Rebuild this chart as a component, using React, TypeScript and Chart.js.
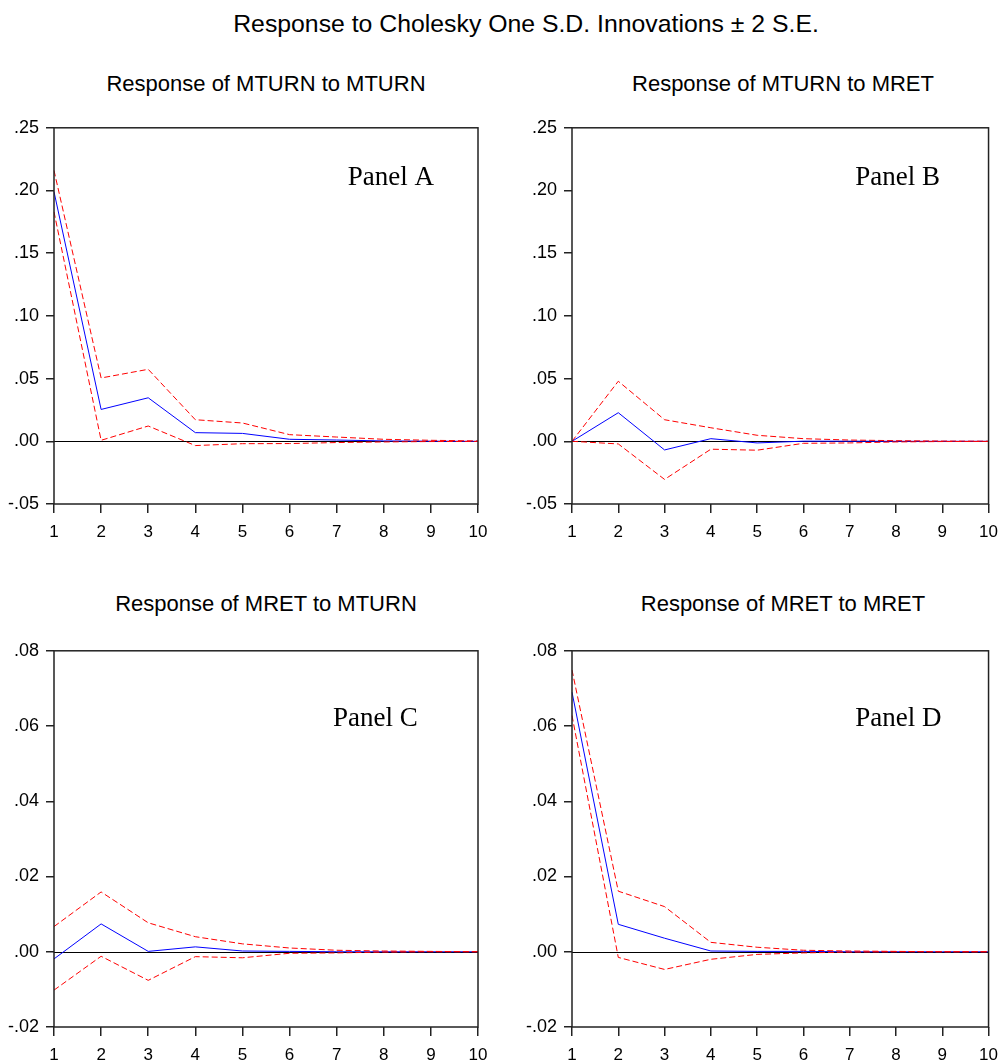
import React, { useEffect, useRef } from "react";
import { Chart, registerables } from "chart.js";

Chart.register(...registerables);

const PERIODS = ["1", "2", "3", "4", "5", "6", "7", "8", "9", "10"];

const TOP_Y_TICKS = [-0.05, 0.0, 0.05, 0.1, 0.15, 0.2, 0.25];
const BOTTOM_Y_TICKS = [-0.02, 0.0, 0.02, 0.04, 0.06, 0.08];

const A_RESP = [0.199, 0.0254, 0.0347, 0.0069, 0.0063, 0.0016, 0.001, 0.0003, 0.0001, 0.0];
const A_UPPER = [0.216, 0.0505, 0.0574, 0.0172, 0.0146, 0.0053, 0.0034, 0.0016, 0.0008, 0.0003];
const A_LOWER = [0.183, 0.0008, 0.0122, -0.0034, -0.0019, -0.0018, -0.001, -0.0005, -0.0002, -0.0001];

const B_RESP = [0.0, 0.0228, -0.0069, 0.0021, -0.0013, 0.0001, 0.0001, 0.0, 0.0, 0.0];
const B_UPPER = [0.0, 0.0479, 0.0172, 0.0108, 0.0048, 0.0021, 0.001, 0.0005, 0.0002, 0.0001];
const B_LOWER = [0.0, -0.0021, -0.0304, -0.0063, -0.0071, -0.0016, -0.0013, -0.0005, -0.0002, -0.0001];

const C_RESP = [-0.0019, 0.0074, 0.0001, 0.0013, 0.0002, 0.0001, 0.0, 0.0, 0.0, 0.0];
const C_UPPER = [0.0067, 0.0159, 0.0077, 0.004, 0.0021, 0.001, 0.0004, 0.0002, 0.0001, 0.0];
const C_LOWER = [-0.0102, -0.0012, -0.0076, -0.0013, -0.0016, -0.0004, -0.0003, -0.0001, 0.0, 0.0];

const D_RESP = [0.069, 0.0073, 0.0036, 0.0002, 0.0001, 0.0001, 0.0, 0.0, 0.0, 0.0];
const D_UPPER = [0.0749, 0.0161, 0.012, 0.0025, 0.0012, 0.0004, 0.0002, 0.0001, 0.0, 0.0];
const D_LOWER = [0.0628, -0.0015, -0.0047, -0.002, -0.0007, -0.0003, -0.0001, 0.0, 0.0, 0.0];

const MAIN_TITLE = "Response to Cholesky One S.D. Innovations \u00B1 2 S.E.";

const SANS = '"Liberation Sans", Arial, sans-serif';
const SERIF = '"Liberation Serif", "Times New Roman", serif';

type PanelDef = {
  title: string;
  label: string;
  resp: number[];
  upper: number[];
  lower: number[];
  yTicks: number[];
  left: number;
  top: number;
  width: number;
  padRight: number;
  labelFx: number;
  labelDy: number;
  titleCenter: number;
  titleTop: number;
};

const PANELS: PanelDef[] = [
  {
    title: "Response of MTURN to MTURN",
    label: "Panel A",
    resp: A_RESP,
    upper: A_UPPER,
    lower: A_LOWER,
    yTicks: TOP_Y_TICKS,
    left: 0,
    top: 110,
    width: 500,
    padRight: 22,
    labelFx: 0.693,
    labelDy: 57,
    titleCenter: 266,
    titleTop: 73,
  },
  {
    title: "Response of MTURN to MRET",
    label: "Panel B",
    resp: B_RESP,
    upper: B_UPPER,
    lower: B_LOWER,
    yTicks: TOP_Y_TICKS,
    left: 518,
    top: 110,
    width: 489,
    padRight: 12,
    labelFx: 0.68,
    labelDy: 57,
    titleCenter: 783,
    titleTop: 73,
  },
  {
    title: "Response of MRET to MTURN",
    label: "Panel C",
    resp: C_RESP,
    upper: C_UPPER,
    lower: C_LOWER,
    yTicks: BOTTOM_Y_TICKS,
    left: 0,
    top: 633,
    width: 500,
    padRight: 22,
    labelFx: 0.658,
    labelDy: 75,
    titleCenter: 266,
    titleTop: 593,
  },
  {
    title: "Response of MRET to MRET",
    label: "Panel D",
    resp: D_RESP,
    upper: D_UPPER,
    lower: D_LOWER,
    yTicks: BOTTOM_Y_TICKS,
    left: 518,
    top: 633,
    width: 489,
    padRight: 12,
    labelFx: 0.68,
    labelDy: 75,
    titleCenter: 783,
    titleTop: 593,
  },
];

const CANVAS_HEIGHT = 450;
const PLOT_HEIGHT = 379;
const PAD_TOP = 15;
const X_AXIS_HEIGHT = 45;

function fmtTick(v: number): string {
  const r = Math.round(v * 100) / 100;
  let s = Math.abs(r).toFixed(2).replace(/^0/, "");
  if (r < 0) s = "-" + s;
  return s;
}

function Panel({ def }: { def: PanelDef }) {
  const ref = useRef<HTMLCanvasElement | null>(null);

  useEffect(() => {
    const canvas = ref.current;
    if (!canvas) return;

    const framePlugin = {
      id: "frame" + def.label.replace(" ", ""),
      beforeDatasetsDraw(chart: any) {
        const { ctx, chartArea, scales } = chart;
        const y0 = scales.y.getPixelForValue(0);
        ctx.save();
        ctx.strokeStyle = "#000";
        ctx.lineWidth = 1;
        ctx.beginPath();
        ctx.moveTo(chartArea.left, Math.round(y0) + 0.5);
        ctx.lineTo(chartArea.right, Math.round(y0) + 0.5);
        ctx.stroke();
        ctx.restore();
      },
      afterDraw(chart: any) {
        const { ctx, chartArea } = chart;
        ctx.save();
        ctx.strokeStyle = "#222";
        ctx.lineWidth = 1.5;
        ctx.strokeRect(
          chartArea.left,
          chartArea.top,
          chartArea.right - chartArea.left,
          chartArea.bottom - chartArea.top
        );
        ctx.fillStyle = "#000";
        ctx.font = "27px " + SERIF;
        ctx.textAlign = "left";
        ctx.textBaseline = "alphabetic";
        ctx.fillText(
          def.label,
          chartArea.left + def.labelFx * (chartArea.right - chartArea.left),
          chartArea.top + def.labelDy
        );
        ctx.restore();
      },
    };

    const chart = new Chart(canvas, {
      type: "line",
      data: {
        labels: PERIODS,
        datasets: [
          {
            label: "Response",
            data: def.resp,
            borderColor: "#0000FF",
            borderWidth: 1,
            pointRadius: 0,
            tension: 0,
            fill: false,
            order: 2,
          },
          {
            label: "+2 S.E.",
            data: def.upper,
            borderColor: "#FF0000",
            borderWidth: 1,
            borderDash: [6, 3],
            pointRadius: 0,
            tension: 0,
            fill: false,
            order: 1,
          },
          {
            label: "-2 S.E.",
            data: def.lower,
            borderColor: "#FF0000",
            borderWidth: 1,
            borderDash: [6, 3],
            pointRadius: 0,
            tension: 0,
            fill: false,
            order: 1,
          },
        ],
      },
      options: {
        animation: false,
        responsive: false,
        devicePixelRatio: 1,
        layout: {
          padding: {
            top: PAD_TOP,
            left: 0,
            right: def.padRight,
            bottom: CANVAS_HEIGHT - PAD_TOP - PLOT_HEIGHT - X_AXIS_HEIGHT,
          },
        },
        plugins: {
          legend: { display: false },
          tooltip: { enabled: false },
          title: { display: false },
        },
        scales: {
          x: {
            type: "category",
            offset: false,
            clip: false,
            grid: {
              display: true,
              drawOnChartArea: false,
              drawTicks: true,
              tickLength: 9,
              color: "#222",
              lineWidth: 1.5,
              offset: false,
            },
            border: { display: false },
            ticks: {
              color: "#000",
              font: { family: SANS, size: 17 },
              padding: 9,
              maxRotation: 0,
              autoSkip: false,
            },
            afterFit: (scale: any) => {
              scale.height = X_AXIS_HEIGHT;
            },
          },
          y: {
            type: "linear",
            clip: false,
            min: def.yTicks[0],
            max: def.yTicks[def.yTicks.length - 1],
            afterBuildTicks: (scale: any) => {
              scale.ticks = def.yTicks.map((v) => ({ value: v }));
            },
            grid: {
              display: true,
              drawOnChartArea: false,
              drawTicks: true,
              tickLength: 8,
              color: "#222",
              lineWidth: 1.5,
            },
            border: { display: false },
            ticks: {
              color: "#000",
              font: { family: SANS, size: 18 },
              padding: 7,
              callback: (v: any) => fmtTick(Number(v)),
            },
            afterFit: (scale: any) => {
              scale.width = 54;
            },
          },
        },
      },
      plugins: [framePlugin],
    } as any);

    return () => {
      chart.destroy();
    };
  }, [def]);

  return (
    <>
      <div
        style={{
          position: "absolute",
          left: def.titleCenter - 250,
          width: 500,
          top: def.titleTop,
          textAlign: "center",
          fontFamily: SANS,
          fontSize: 22,
          lineHeight: "22px",
          color: "#000",
          whiteSpace: "nowrap",
        }}
      >
        {def.title}
      </div>
      <canvas
        ref={ref}
        width={def.width}
        height={CANVAS_HEIGHT}
        style={{
          position: "absolute",
          left: def.left,
          top: def.top,
          width: def.width,
          height: CANVAS_HEIGHT,
        }}
      />
    </>
  );
}

export default function App() {
  return (
    <div
      style={{
        position: "absolute",
        left: 0,
        top: 0,
        width: 1007,
        height: 1063,
        background: "#fff",
        overflow: "hidden",
      }}
    >
      <div
        style={{
          position: "absolute",
          left: 226,
          width: 600,
          top: 11,
          textAlign: "center",
          fontFamily: SANS,
          fontSize: 24.8,
          lineHeight: "25px",
          color: "#000",
          whiteSpace: "nowrap",
        }}
      >
        {MAIN_TITLE}
      </div>
      {PANELS.map((p) => (
        <Panel key={p.label} def={p} />
      ))}
    </div>
  );
}
